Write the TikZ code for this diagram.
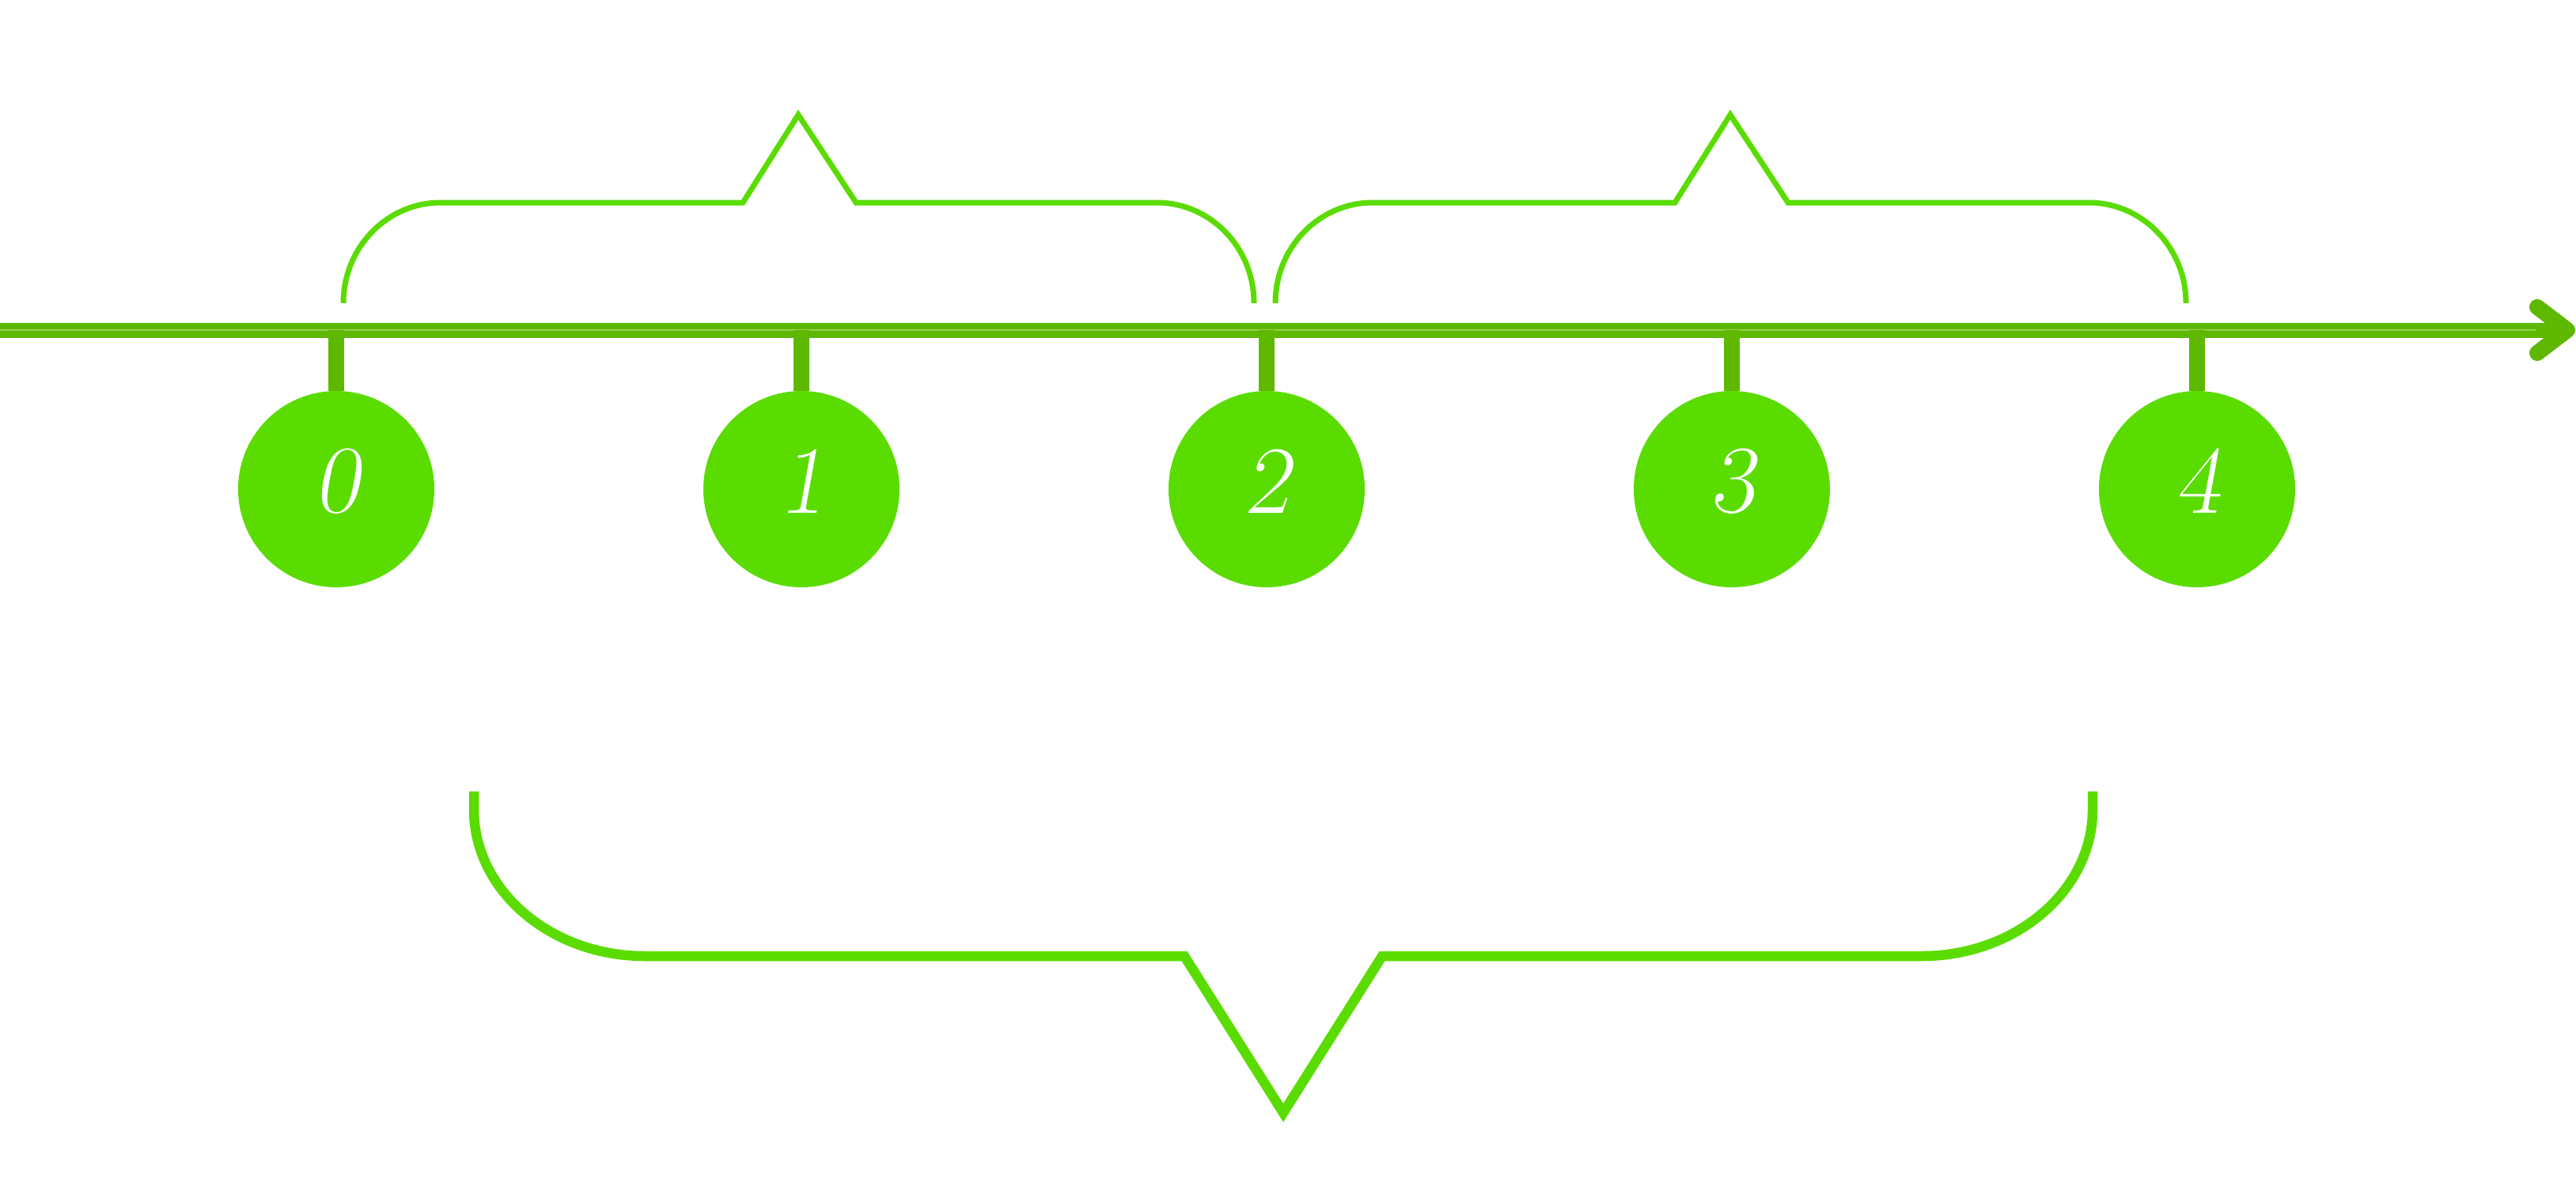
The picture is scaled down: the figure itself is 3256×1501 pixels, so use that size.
\documentclass[tikz,border=0pt]{standalone}
\usepackage{fontspec}
\newfontfamily\digitfont{Latin Modern Roman}[FakeSlant=0.18]
\definecolor{bright}{HTML}{5BDC00}
\definecolor{axisg}{HTML}{5EB800}
\begin{document}
\begin{tikzpicture}[x=1pt,y=-1pt,
  disc/.style={circle,fill=bright,minimum size=248pt,inner sep=0pt},
  digit/.style={text=white,font=\digitfont\fontsize{122}{122}\selectfont,inner sep=0pt},
  tickline/.style={draw=axisg,line width=20pt},
  axisline/.style={draw=axisg,line width=19pt},
  arrowhd/.style={draw=axisg,line width=20pt,line cap=round,line join=round},
  topbrace/.style={draw=bright,line width=7pt,miter limit=10},
  botbrace/.style={draw=bright,line width=12.5pt,miter limit=10}]
\useasboundingbox (0,0) rectangle (3256,1501);
% axis
\coordinate (start) at (0,417);
\coordinate (tip) at (3245,417);
\draw[axisline] (start) -- (tip);
\draw[draw=white,opacity=0.35,line width=1.2pt] (start) -- ([xshift=-40pt]tip);
\draw[arrowhd] (3207,388) -- (tip) -- (3207,446);
% circles, ticks and digits
\foreach \i/\x in {0/425,1/1013,2/1601,3/2189,4/2777} {
  \node[disc] (c\i) at (\x,618) {};
  \node[digit] (t\i) at (\x,608) {\i};
  \coordinate (a\i) at (\x,417);
  \draw[tickline] (a\i) -- (c\i.north);
}
% top braces
\draw[topbrace] (434,383) .. controls (434,313) and (489,256) .. (557,256)
  -- (939,256) -- (1009,145) -- (1082,256) -- (1462,256)
  .. controls (1530,256) and (1585,313) .. (1585,383);
\draw[topbrace] (1612,383) .. controls (1612,313) and (1667,256) .. (1735,256)
  -- (2117,256) -- (2187,145) -- (2260,256) -- (2640,256)
  .. controls (2708,256) and (2763,313) .. (2763,383);
% bottom brace
\draw[botbrace] (599,1000) -- (599,1023) .. controls (599,1125) and (696,1208) .. (815,1208)
  -- (1497,1208) -- (1622,1406) -- (1747,1208) -- (2429,1208)
  .. controls (2548,1208) and (2645,1125) .. (2645,1023) -- (2645,1000);
\end{tikzpicture}
\end{document}
